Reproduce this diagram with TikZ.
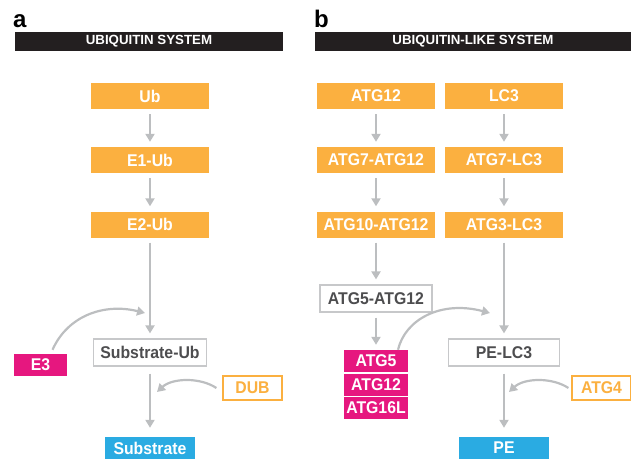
\documentclass[tikz,border=0pt]{standalone}
\usepackage{fontspec}
\setmainfont{Liberation Sans}
\newfontfamily\boxfont[FakeStretch=0.93]{Liberation Sans}
\usetikzlibrary{arrows.meta}

\definecolor{ubiorange}{HTML}{FBB040}
\definecolor{ubimagenta}{HTML}{E6177F}
\definecolor{ubicyan}{HTML}{2AABE2}
\definecolor{arrowgray}{HTML}{BCBEC0}
\definecolor{framegray}{HTML}{C7C8CA}
\definecolor{textgray}{HTML}{4D4D4F}
\definecolor{barblack}{HTML}{231F20}

\tikzset{
	box/.style={inner sep=0pt, font=\boxfont\bfseries\fontsize{17}{18}\selectfont},
	orangebox/.style={box, fill=ubiorange, text=white, minimum width=118pt, minimum height=26pt},
	framebox/.style={box, draw=framegray, line width=1.2pt, fill=white, text=textgray, minimum height=27pt},
	magentabox/.style={box, fill=ubimagenta, text=white, minimum height=22pt},
	cyanbox/.style={box, fill=ubicyan, text=white, minimum height=22pt},
	enzymebox/.style={box, draw=ubiorange, line width=1.2pt, fill=white, text=ubiorange, minimum width=59pt, minimum height=24pt},
	headbar/.style={fill=barblack, text=white, inner sep=0pt, minimum height=19pt, font=\bfseries\fontsize{13.3}{14}\selectfont},
	panel/.style={inner sep=0pt, font=\bfseries\fontsize{24}{24}\selectfont},
	flow/.style={draw=arrowgray, line width=2.2pt, -{Triangle[length=8pt,width=9pt]}, shorten <=5pt, shorten >=5pt}
}

\begin{document}
\begin{tikzpicture}[x=1pt, y=-1pt]

		\useasboundingbox (0,0) rectangle (631,459);

		\node[panel, anchor=base west] (la) at (13,27) {a};
		\node[panel, anchor=base west] (lb) at (314,27) {b};
		\node[headbar, minimum width=268pt] (heada) at (149,41.5) {UBIQUITIN SYSTEM};
		\node[headbar, minimum width=316pt] (headb) at (473,41.5) {UBIQUITIN-LIKE SYSTEM};

		\foreach \n/\x/\y/\t in {ub/150/96/Ub, e1ub/150/160/E1-Ub, e2ub/150/224.5/E2-Ub,
			atga/376/96/ATG12, atgb/376/160/ATG7-ATG12, atgc/376/224.5/ATG10-ATG12,
			lca/504/96/LC3, lcb/504/160/ATG7-LC3, lcc/504/224.5/ATG3-LC3}
		\node[orangebox] (\n) at (\x,\y) {\t};

		\node[framebox, minimum width=113pt] (subub) at (150,352.5) {Substrate-Ub};
		\node[framebox, minimum width=112pt] (atgd) at (376,298.5) {ATG5-ATG12};
		\node[framebox, minimum width=111pt] (pelc) at (504,352.5) {PE-LC3};

		\node[cyanbox, minimum width=90pt] (sub) at (150,448) {Substrate};
		\node[cyanbox, minimum width=90pt] (pe) at (504,448) {PE};

		\node[magentabox, minimum width=53pt] (e3) at (40.5,365) {E3};
		\foreach \n/\y/\t in {atgfive/361/ATG5, atgtwelve/384.5/ATG12, atgsixteen/408/ATG16L}
		\node[magentabox, minimum width=64pt] (\n) at (376,\y) {\t};

		\node[enzymebox] (dub) at (252.5,388) {DUB};
		\node[enzymebox] (atgfour) at (601.5,388) {ATG4};

		\foreach \a/\b in {ub/e1ub, e1ub/e2ub, e2ub/subub, atga/atgb, atgb/atgc, atgc/atgd, atgd/atgfive, lca/lcb, lcb/lcc, lcc/pelc}
		\draw[flow] (\a) -- (\b);
		\draw[flow, shorten <=7pt, shorten >=9pt] (subub) -- (sub);
		\draw[flow, shorten <=7pt, shorten >=9pt] (pelc) -- (pe);

		\coordinate (ethree) at (145,313);
		\coordinate (dubtip) at (157,392);
		\coordinate (lctip) at (490,313);
		\coordinate (atgtip) at (509,392);

		\draw[flow, shorten <=0pt, shorten >=0pt] ([xshift=12pt,yshift=4pt]e3.north) .. controls (68,315) and (105,303) .. (ethree);
		\draw[flow, shorten <=0pt, shorten >=0pt] ([xshift=-6pt]dub.west) .. controls (200,377) and (172,378) .. (dubtip);
		\draw[flow, shorten <=0pt, shorten >=0pt] ([xshift=22pt]atgfive.north) .. controls (405,320) and (440,300) .. (lctip);
		\draw[flow, shorten <=0pt, shorten >=0pt] ([xshift=-3pt]atgfour.west) .. controls (552,377) and (524,378) .. (atgtip);
	\end{tikzpicture}
\end{document}
